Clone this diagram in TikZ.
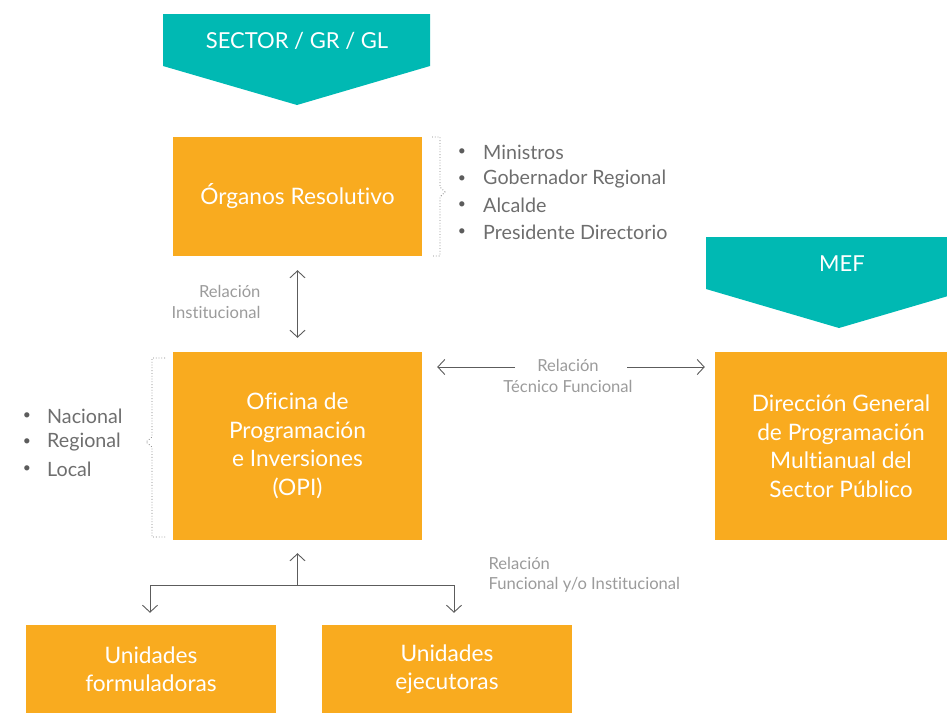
\documentclass[tikz,border=0pt]{standalone}
\usepackage{fontspec}
\setmainfont{Lato}[Ligatures=NoCommon]
\usepackage{tikz}
\usetikzlibrary{arrows.meta}
\definecolor{naranja}{HTML}{F9AB1F}
\definecolor{turquesa}{HTML}{00B9B3}
\definecolor{gristexto}{HTML}{6E6E6E}
\definecolor{grisclaro}{HTML}{9B9B9B}
\definecolor{grisflecha}{HTML}{5C5C5C}
\definecolor{grisllave}{HTML}{7F7F7F}

\begin{document}
\begin{tikzpicture}[x=1pt,y=-1pt,
	caja/.style={fill=naranja,text=white,align=center,inner sep=0pt,font=\fontsize{22.7}{28.5}\selectfont},
	banda/.style={text=white,font=\fontsize{22}{25}\selectfont},
	rotulo/.style={text=grisclaro,font=\fontsize{16.6}{20.5}\selectfont},
	lista/.style={text=gristexto,anchor=west,inner sep=0pt,font=\fontsize{19.7}{22}\selectfont},
	punto/.style={text=grisflecha,inner sep=0pt,font=\fontsize{14}{14}\selectfont},
	linea/.style={draw=grisflecha,line width=0.9pt},
	flecha/.style={linea,-{Straight Barb[length=7pt,width=15pt]}},
	llave/.style={draw=grisllave,dotted,line width=0.8pt}]
	\useasboundingbox (0,0) rectangle (947,713);
	\clip (0,0) rectangle (947,713);
	\fill[turquesa] (163,14) -- (430,14) -- (430,66) -- (297,105) -- (163,66) -- cycle;
	\node[banda] (sector) at (297,41) {SECTOR / GR / GL};
	\fill[turquesa] (706,237) -- (972,237) -- (972,289) -- (839,328) -- (706,289) -- cycle;
	\node[banda] (mef) at (842,264) {MEF};
	\node[caja,minimum width=249pt,minimum height=119pt] (organos) at (297.5,196.5) {Órganos Resolutivo};
	\node[caja,minimum width=249pt,minimum height=188pt] (opi) at (297.5,446) {Oficina de\\Programación\\e Inversiones\\(OPI)};
	\node[caja,minimum width=252pt,minimum height=188pt] (dgpm) at (841,446) {Dirección General\\de Programación\\Multianual del\\Sector Público};
	\node[caja,minimum width=250pt,minimum height=88pt] (uf) at (151,669) {Unidades\\formuladoras};
	\node[caja,minimum width=250pt,minimum height=88pt] (ue) at (447,669) {Unidades\\ejecutoras};
	\foreach \txt [count=\i] in {Ministros, Gobernador Regional, Alcalde, Presidente Directorio} {
		\node[punto] (pres\i) at (462,{125.5+26.7*\i}) {\textbullet};
		\node[lista] (res\i) at (483,{125.5+26.7*\i}) {\txt};
	}
	\foreach \txt [count=\i] in {Nacional, Regional, Local} {
		\node[punto] (pniv\i) at (27,{389.5+26.5*\i}) {\textbullet};
		\node[lista] (niv\i) at (47,{389.5+26.5*\i}) {\txt};
	}
	\draw[llave] (432,137) -- (440,137) -- (440,187) -- (445,192) -- (440,197) -- (440,256) -- (432,256);
	\draw[llave] (165,358) -- (152,358) -- (152,437) -- (146,442) -- (152,447) -- (152,537) -- (165,537);
	\node[rotulo,align=right,anchor=east] (rinst) at (264,302) {Relación\\Institucional};
	\node[rotulo,align=center] (rtec) at (568,376) {Relación\\Técnico Funcional};
	\node[rotulo,align=left,anchor=west] (rfun) at (485,575) {Relación\\Funcional y/o Institucional};
	\draw[flecha,{Straight Barb[length=7pt,width=15pt]}-{Straight Barb[length=7pt,width=15pt]},shorten <=14pt,shorten >=14pt] (organos) -- (opi);
	\coordinate (tecI) at (515,367);
	\coordinate (tecD) at (627,367);
	\draw[flecha,shorten >=15pt] (tecI) -- (tecI -| opi.east);
	\draw[flecha,shorten >=10pt] (tecD) -- (tecD -| dgpm.west);
	\coordinate (bif) at (297.5,585);
	\coordinate (bifI) at (150,585);
	\coordinate (bifD) at (454,585);
	\draw[flecha,shorten >=13pt] (bif) -- (opi);
	\draw[linea] (bifI) -- (bifD);
	\draw[flecha,shorten >=12pt] (bifI) -- (bifI |- uf.north);
	\draw[flecha,shorten >=12pt] (bifD) -- (bifD |- ue.north);
\end{tikzpicture}
\end{document}
